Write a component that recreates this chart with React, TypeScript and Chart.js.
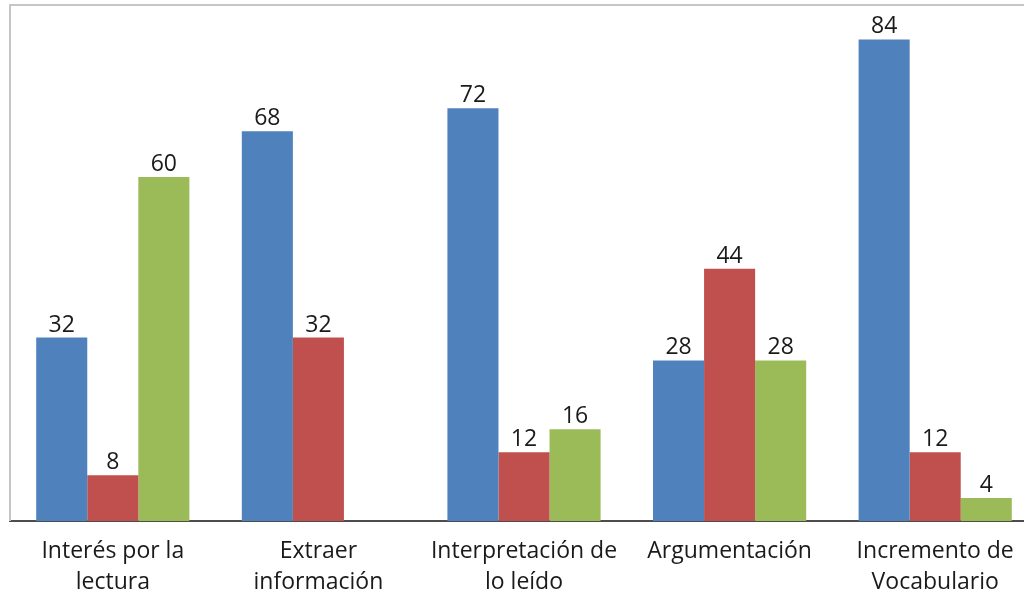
import React, { useEffect, useRef } from "react";
import { Chart, registerables } from "chart.js";

Chart.register(...registerables);

const categories: string[][] = [
  ["Interés por la", "lectura"],
  ["Extraer", "información"],
  ["Interpretación de", "lo leído"],
  ["Argumentación"],
  ["Incremento de", "Vocabulario"],
];
const serieAzul: (number | null)[] = [32, 68, 72, 28, 84];
const serieRoja: (number | null)[] = [8, 32, 12, 44, 12];
const serieVerde: (number | null)[] = [60, null, 16, 28, 4];

const FONT = "'Open Sans', sans-serif";

const framePlugin = {
  id: "frame",
  beforeDatasetsDraw(chart: any) {
    const { ctx, chartArea } = chart;
    ctx.save();
    ctx.strokeStyle = "#c6c6c6";
    ctx.lineWidth = 2;
    ctx.beginPath();
    ctx.moveTo(chartArea.left, chartArea.bottom);
    ctx.lineTo(chartArea.left, chartArea.top);
    ctx.lineTo(chartArea.right, chartArea.top);
    ctx.stroke();
    ctx.restore();
  },
};

const labelPlugin = {
  id: "valueLabels",
  afterDatasetsDraw(chart: any) {
    const { ctx } = chart;
    ctx.save();
    ctx.font = `23px ${FONT}`;
    ctx.fillStyle = "#1a1a1a";
    ctx.textAlign = "center";
    ctx.textBaseline = "alphabetic";
    chart.data.datasets.forEach((ds: any, i: number) => {
      const meta = chart.getDatasetMeta(i);
      meta.data.forEach((el: any, j: number) => {
        const v = ds.data[j];
        if (v === null || v === undefined) return;
        ctx.fillText(String(v), el.x, el.y - 6);
      });
    });
    ctx.restore();
  },
};

export default function App() {
  const ref = useRef<HTMLCanvasElement | null>(null);
  useEffect(() => {
    document.body.style.margin = "0";
    document.body.style.overflow = "hidden";
    const chart = new Chart(ref.current as HTMLCanvasElement, {
      type: "bar",
      data: {
        labels: categories,
        datasets: [
          { data: serieAzul, backgroundColor: "#4F81BD" },
          { data: serieRoja, backgroundColor: "#C0504D" },
          { data: serieVerde, backgroundColor: "#9BBB59" },
        ],
      },
      options: {
        animation: false,
        responsive: false,
        maintainAspectRatio: false,
        layout: { padding: { left: 10, right: 10, top: 5, bottom: 0 } },
        plugins: { legend: { display: false }, tooltip: { enabled: false } },
        datasets: { bar: { barPercentage: 1, categoryPercentage: 0.745 } },
        scales: {
          x: {
            grid: { display: false, drawTicks: false },
            border: { display: true, color: "#4d4d4d", width: 2 },
            ticks: {
              font: { family: FONT, size: 23, lineHeight: 1.35 },
              color: "#1a1a1a",
              padding: 15,
              maxRotation: 0,
              autoSkip: false,
            },
            afterFit(scale: any) {
              scale.height = 75;
            },
          },
          y: { display: false, min: 0, max: 90 },
        },
      },
      plugins: [framePlugin, labelPlugin],
    } as any);
    return () => chart.destroy();
  }, []);
  return (
    <div style={{ position: "absolute", left: 0, top: 0, width: 1048, height: 596, background: "#fff" }}>
      <canvas ref={ref} width={1048} height={596} style={{ display: "block" }} />
    </div>
  );
}
